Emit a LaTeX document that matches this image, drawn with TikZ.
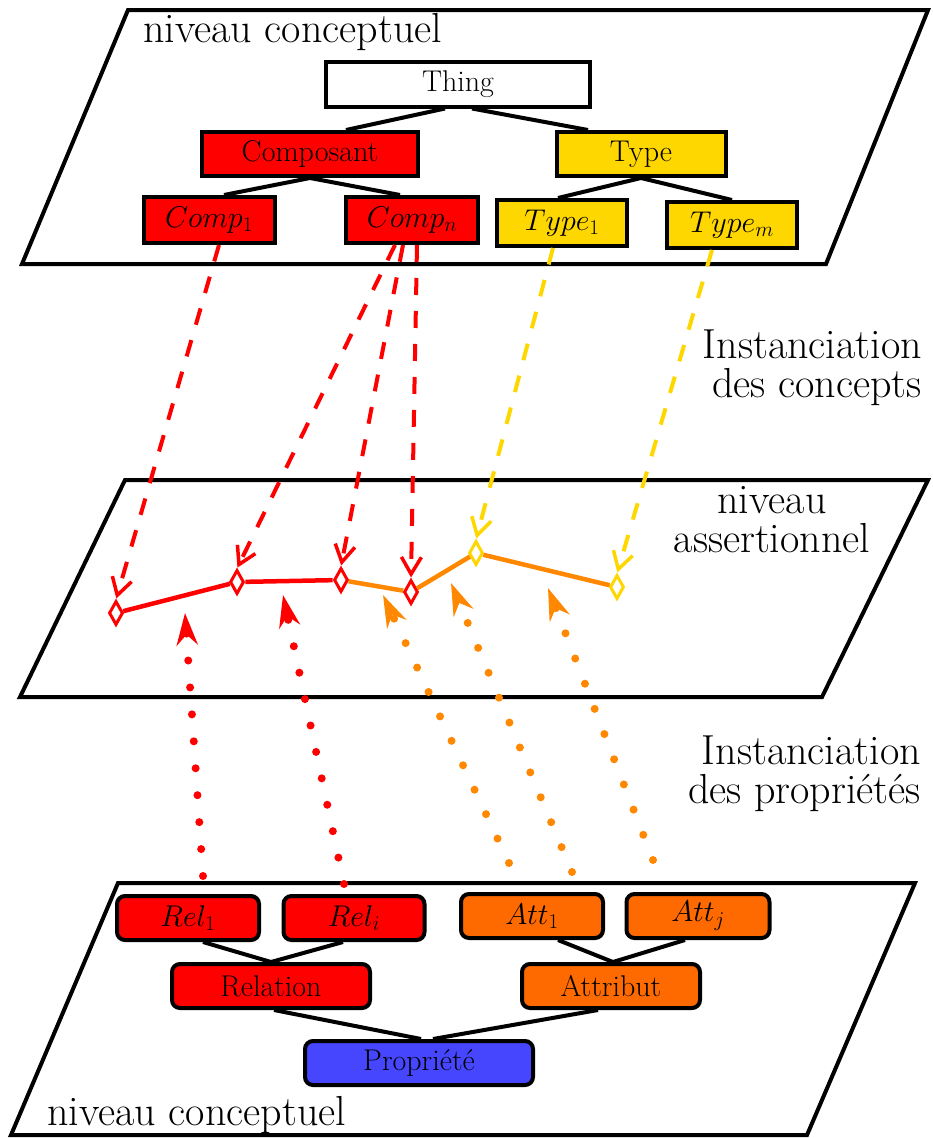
\RequirePackage{fix-cm}
\documentclass[tikz,border=0pt]{standalone}
\usetikzlibrary{arrows.meta,shapes.geometric,calc}
\definecolor{cred}{RGB}{255,0,0}
\definecolor{cgold}{RGB}{255,215,0}
\definecolor{corange}{RGB}{255,106,0}
\definecolor{clorange}{RGB}{255,136,0}
\definecolor{cblue}{RGB}{70,70,255}
\begin{document}
\begin{tikzpicture}[x=1pt,y=-1pt,
 plane/.style={draw=black,line width=4pt,line join=miter},
 sqbox/.style={draw=black,line width=4pt,inner sep=0pt,font=\fontsize{30}{33}\selectfont},
 rbox/.style={sqbox,rounded corners=8pt},
 tree/.style={line width=4pt,draw=black},
 big/.style={font=\fontsize{42}{39}\selectfont,inner sep=0pt},
 dia/.style={diamond,draw,line width=3pt,fill=white,minimum width=14pt,minimum height=24pt,inner sep=0pt},
 chainline/.style={line width=4.5pt},
 dasharr/.style={line width=4pt,dash pattern=on 17pt off 16pt,shorten >=1pt,-{Straight Barb[length=17pt,width=20pt,line width=3.5pt]}},
 dotarr/.style={line width=8pt,line cap=round,dash pattern=on 0pt off 27pt,-{Stealth[length=32pt,width=21pt]}},
]
\useasboundingbox (0,0) rectangle (932,1138);
% planes
\draw[plane] (128,10) -- (928,10) -- (826,264) -- (22,264) -- cycle;
\draw[plane] (125,480) -- (928,480) -- (822,697) -- (20,697) -- cycle;
\draw[plane] (118,883) -- (915,883) -- (807,1135) -- (11,1135) -- cycle;

% top tree
\node[sqbox,fill=white,minimum width=264pt,minimum height=45pt] (thing) at (458,84) {Thing};
\node[sqbox,fill=cred,minimum width=216pt,minimum height=44pt] (compo) at (310,154) {Composant};
\node[sqbox,fill=cgold,minimum width=169pt,minimum height=44pt] (type) at (641,154) {Type};
\node[sqbox,fill=cred,minimum width=131pt,minimum height=46pt] (comp1) at (209,220) {$Comp_1$};
\node[sqbox,fill=cred,minimum width=132pt,minimum height=46pt] (compn) at (412,220) {$Comp_n$};
\node[sqbox,fill=cgold,minimum width=130pt,minimum height=46pt] (type1) at (562,223) {$Type_1$};
\node[sqbox,fill=cgold,minimum width=130pt,minimum height=46pt] (typem) at (732,225) {$Type_m$};
\draw[tree] ([xshift=-13pt]thing.south) -- ([xshift=36pt]compo.north);
\draw[tree] ([xshift=14pt]thing.south) -- ([xshift=-53pt]type.north);
\draw[tree] (compo.south) -- ([xshift=15pt]comp1.north);
\draw[tree] (compo.south) -- ([xshift=-12pt]compn.north);
\draw[tree] (type.south) -- ([xshift=-4pt]type1.north);
\draw[tree] (type.south) -- (typem.north);

% bottom tree
\node[rbox,fill=cred,minimum width=142pt,minimum height=44pt] (rel1) at (188,918) {$Rel_1$};
\node[rbox,fill=cred,minimum width=141pt,minimum height=44pt] (reli) at (354,918) {$Rel_i$};
\node[rbox,fill=corange,minimum width=142pt,minimum height=44pt] (att1) at (532,916) {$Att_1$};
\node[rbox,fill=corange,minimum width=143pt,minimum height=44pt] (attj) at (698,916) {$Att_j$};
\node[rbox,fill=cred,minimum width=198pt,minimum height=44pt] (relation) at (271,986) {Relation};
\node[rbox,fill=corange,minimum width=178pt,minimum height=44pt] (attribut) at (611,986) {Attribut};
\node[rbox,fill=cblue,minimum width=228pt,minimum height=44pt] (prop) at (419,1063) {Propriété};
\draw[tree] ([xshift=15pt]rel1.south) -- (relation.north);
\draw[tree] ([xshift=-11pt]reli.south) -- (relation.north);
\draw[tree] ([xshift=26pt]att1.south) -- ([xshift=2pt]attribut.north);
\draw[tree] ([xshift=-13pt]attj.south) -- ([xshift=2pt]attribut.north);
\draw[tree] ([xshift=3pt]relation.south) -- ([xshift=2pt]prop.north);
\draw[tree] ([xshift=-13pt]attribut.south) -- ([xshift=14pt]prop.north);

% assertional chain
\node[dia,draw=cred] (d1) at (116,613) {};
\node[dia,draw=cred] (d2) at (237,582) {};
\node[dia,draw=cred] (d3) at (341,580) {};
\node[dia,draw=cred] (d4) at (411,592) {};
\node[dia,draw=cgold] (d5) at (476,553) {};
\node[dia,draw=cgold] (d6) at (617,587) {};
\draw[chainline,cred] (d1) -- (d2) -- (d3);
\draw[chainline,clorange] (d3) -- (d4) -- (d5) -- (d6);

% concept instantiation
\draw[dasharr,cred] ([xshift=10pt]comp1.south) -- (d1.north);
\draw[dasharr,cred] ([xshift=-17pt]compn.south) -- (d2.north);
\draw[dasharr,cred] ([xshift=-9pt]compn.south) -- (d3.north);
\draw[dasharr,cred] ([xshift=5pt]compn.south) -- (d4.north);
\draw[dasharr,cgold] ([xshift=-9pt]type1.south) -- (d5.north);
\draw[dasharr,cgold] ([xshift=-20pt]typem.south) -- (d6.north);

% property instantiation
\coordinate (r1s) at (203,876); \coordinate (r1e) at (185,613);
\coordinate (r2s) at (344,884); \coordinate (r2e) at (283,595);
\coordinate (o1s) at (509,863); \coordinate (o1e) at (383,595);
\coordinate (o2s) at (572,872); \coordinate (o2e) at (451,583);
\coordinate (o3s) at (653,860); \coordinate (o3e) at (548,588);
\draw[dotarr,cred] (r1s) -- (r1e);
\draw[dotarr,cred] (r2s) -- (r2e);
\draw[dotarr,clorange] (o1s) -- (o1e);
\draw[dotarr,clorange] (o2s) -- (o2e);
\draw[dotarr,clorange] (o3s) -- (o3e);

% labels
\node[big,anchor=base west] (ltop) at (143,42) {niveau conceptuel};
\node[big,anchor=base west] (lbot) at (47,1125) {niveau conceptuel};
\node[big,anchor=base,align=center] (lmid) at (772,552) {niveau\\assertionnel};
\node[big,anchor=base east,align=right] (lic) at (922,397) {Instanciation\\des concepts};
\node[big,anchor=base east,align=right] (lip) at (921,803) {Instanciation\\des propriétés};
\end{tikzpicture}
\end{document}
